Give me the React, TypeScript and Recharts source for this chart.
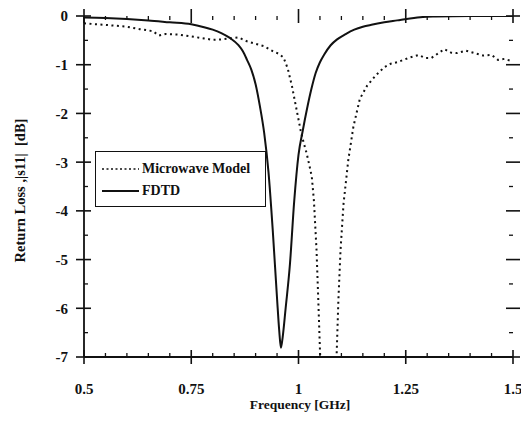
import React from 'react';
import { LineChart, Line, XAxis, YAxis, Legend, ReferenceLine } from 'recharts';

// ---- data ----
const fdtdFreq = [0.5, 0.55, 0.6, 0.65, 0.7, 0.75, 0.78, 0.8, 0.82, 0.84, 0.86, 0.87, 0.88, 0.89, 0.9, 0.91, 0.92, 0.93, 0.94, 0.95, 0.955, 0.959, 0.963, 0.97, 0.98, 0.99, 1.0, 1.01, 1.02, 1.03, 1.04, 1.05, 1.06, 1.075, 1.09, 1.11, 1.13, 1.15, 1.17, 1.2, 1.23, 1.26, 1.29, 1.32, 1.4, 1.5];
const fdtdLoss = [-0.03, -0.04, -0.06, -0.09, -0.13, -0.17, -0.23, -0.28, -0.35, -0.45, -0.6, -0.72, -0.9, -1.1, -1.4, -1.85, -2.4, -3.2, -4.4, -5.8, -6.45, -6.81, -6.6, -6.0, -5.1, -3.8, -2.85, -2.35, -1.9, -1.5, -1.17, -0.95, -0.79, -0.6, -0.48, -0.37, -0.28, -0.22, -0.18, -0.13, -0.09, -0.05, -0.02, -0.01, 0, 0];

const mwFreq = [0.5, 0.53, 0.56, 0.6, 0.63, 0.66, 0.675, 0.69, 0.72, 0.75, 0.78, 0.8, 0.82, 0.84, 0.86, 0.88, 0.9, 0.92, 0.94, 0.955, 0.965, 0.975, 0.985, 0.995, 1.005, 1.012, 1.019, 1.025, 1.031, 1.036, 1.042, 1.046, 1.05, 1.055, 1.07, 1.085, 1.089, 1.093, 1.098, 1.105, 1.116, 1.128, 1.143, 1.16, 1.18, 1.2, 1.215, 1.23, 1.245, 1.26, 1.28, 1.295, 1.31, 1.325, 1.34, 1.355, 1.37, 1.39, 1.41, 1.43, 1.45, 1.465, 1.48, 1.495];
const mwLoss = [-0.15, -0.17, -0.19, -0.22, -0.27, -0.31, -0.4, -0.37, -0.38, -0.42, -0.46, -0.49, -0.48, -0.46, -0.44, -0.52, -0.57, -0.62, -0.72, -0.78, -0.85, -1.08, -1.45, -1.9, -2.35, -2.6, -2.82, -3.05, -3.3, -3.8, -4.8, -5.8, -6.85, -8, -9, -8, -6.92, -5.83, -4.8, -3.85, -2.96, -2.27, -1.7, -1.43, -1.22, -1.05, -0.98, -0.95, -0.9, -0.85, -0.8, -0.86, -0.86, -0.77, -0.68, -0.75, -0.76, -0.71, -0.76, -0.81, -0.8, -0.9, -0.88, -0.92];

const xTicks = [0.5, 0.55, 0.6, 0.65, 0.7, 0.75, 0.8, 0.85, 0.9, 0.95, 1, 1.05, 1.1, 1.15, 1.2, 1.25, 1.3, 1.35, 1.4, 1.45, 1.5];
const xMajor = [0.5, 0.75, 1, 1.25, 1.5];
const yTicks = [-7, -6.5, -6, -5.5, -5, -4.5, -4, -3.5, -3, -2.5, -2, -1.5, -1, -0.5, 0];
const yMajor = [-7, -6, -5, -4, -3, -2, -1, 0];

const seriesNames = ['Microwave Model', 'FDTD'];

const fdtdData = fdtdFreq.map((x, i) => ({ x, y: fdtdLoss[i] }));
const mwData = mwFreq.map((x, i) => ({ x, y: mwLoss[i] }));

const FONT = '"Liberation Serif", "Times New Roman", serif';
const INK = '#111';
const X_DOMAIN: [number, number] = [0.5, 1.5];
const Y_DOMAIN: [number, number] = [-7, 0];
const frameLine = { stroke: INK, strokeWidth: 1.8 };

// plot size in px (chart 521x436, margins/axis sizes below) used to express tick lengths in data units
const PLOT_W = 429;
const PLOT_H = 341;
const dxPx = (X_DOMAIN[1] - X_DOMAIN[0]) / PLOT_W;
const dyPx = (Y_DOMAIN[1] - Y_DOMAIN[0]) / PLOT_H;

const isMajor = (list: number[], v: number) => list.some((m) => Math.abs(m - v) < 1e-6);

type Seg = { key: string; a: { x: number; y: number }; b: { x: number; y: number }; major: boolean };
const tickSegments: Seg[] = [];
xTicks.forEach((v) => {
  const major = isMajor(xMajor, v);
  const out = major ? 7 : 0;
  const inn = major ? 7 : 4;
  tickSegments.push({ key: `b${v}`, major, a: { x: v, y: Y_DOMAIN[0] - out * dyPx }, b: { x: v, y: Y_DOMAIN[0] + inn * dyPx } });
  tickSegments.push({ key: `t${v}`, major, a: { x: v, y: Y_DOMAIN[1] + out * dyPx }, b: { x: v, y: Y_DOMAIN[1] - inn * dyPx } });
});
yTicks.forEach((v) => {
  const major = isMajor(yMajor, v);
  const outL = major ? 8 : 0;
  const out = major ? 7 : 0;
  const inn = major ? 7 : 4;
  tickSegments.push({ key: `l${v}`, major, a: { x: X_DOMAIN[0] - outL * dxPx, y: v }, b: { x: X_DOMAIN[0] + inn * dxPx, y: v } });
  tickSegments.push({ key: `r${v}`, major, a: { x: X_DOMAIN[1] + out * dxPx, y: v }, b: { x: X_DOMAIN[1] - inn * dxPx, y: v } });
});

const bottomLabel = (props: any) => {
  const v = props.payload.value;
  if (!isMajor(xMajor, v)) return <g />;
  return (
    <text x={Number(props.x)} y={Number(props.y) + 37} textAnchor="middle" fontFamily={FONT} fontWeight="bold" fontSize={15} fill={INK}>
      {String(v)}
    </text>
  );
};

const leftLabel = (props: any) => {
  const v = props.payload.value;
  if (!isMajor(yMajor, v)) return <g />;
  return (
    <text x={Number(props.x) - 16} y={Number(props.y)} dy="0.36em" textAnchor="end" fontFamily={FONT} fontWeight="bold" fontSize={15} fill={INK}>
      {String(v)}
    </text>
  );
};

const YLabel = (props: any) => {
  const vb = props.viewBox || { x: 0, y: 16, width: 84, height: 341 };
  const cx = vb.x + 20;
  const cy = vb.y + vb.height / 2 + 4;
  return (
    <text
      x={cx}
      y={cy}
      transform={`rotate(-90 ${cx} ${cy})`}
      textAnchor="middle"
      dominantBaseline="central"
      fontFamily={FONT}
      fontWeight="bold"
      fontSize={14.5}
      fill={INK}
      style={{ whiteSpace: 'pre' }}
    >
      {'Return Loss ,|s11|  [dB]'}
    </text>
  );
};

const XLabel = (props: any) => {
  const vb = props.viewBox || { x: 84, y: 357, width: 429, height: 79 };
  const cx = vb.x + 216;
  const cy = vb.y + 52;
  return (
    <text x={cx} y={cy} textAnchor="middle" fontFamily={FONT} fontWeight="bold" fontSize={13.5} fill={INK}>
      Frequency [GHz]
    </text>
  );
};

const LegendBox = () => (
  <div
    style={{
      width: 171,
      height: 56,
      boxSizing: 'border-box',
      border: `1.5px solid ${INK}`,
      background: '#fff',
      fontFamily: FONT,
      fontWeight: 'bold',
      fontSize: 14,
      color: INK,
      paddingTop: 6,
      paddingLeft: 5,
    }}
  >
    {seriesNames.map((name, i) => (
      <div key={name} style={{ display: 'flex', alignItems: 'center', height: 22 }}>
        <svg width={40} height={8} style={{ display: 'block' }}>
          <line
            x1={1}
            x2={38}
            y1={4}
            y2={4}
            stroke={INK}
            strokeWidth={i === 0 ? 1.6 : 1.8}
            strokeDasharray={i === 0 ? '2 2.5' : undefined}
          />
        </svg>
        <span style={{ marginLeft: 1, lineHeight: '22px' }}>{name}</span>
      </div>
    ))}
  </div>
);

export default function App() {
  return (
    <div style={{ position: 'absolute', left: 0, top: 0, background: '#fff' }}>
      <LineChart width={521} height={436} margin={{ top: 16, right: 8, left: 0, bottom: 0 }}>
        <XAxis
          xAxisId="b"
          type="number"
          dataKey="x"
          domain={X_DOMAIN}
          ticks={xMajor}
          interval={0}
          height={79}
          tickLine={false}
          tickSize={0}
          tickMargin={0}
          axisLine={frameLine}
          tick={bottomLabel}
          allowDataOverflow
          label={<XLabel />}
        />
        <XAxis xAxisId="t" orientation="top" type="number" domain={X_DOMAIN} ticks={xMajor} interval={0} height={0} tickLine={false} tick={false} axisLine={frameLine} allowDataOverflow />
        <YAxis
          yAxisId="l"
          type="number"
          domain={Y_DOMAIN}
          ticks={yMajor}
          interval={0}
          width={84}
          tickLine={false}
          tickSize={0}
          tickMargin={0}
          axisLine={frameLine}
          tick={leftLabel}
          allowDataOverflow
          label={<YLabel />}
        />
        <YAxis yAxisId="r" orientation="right" type="number" domain={Y_DOMAIN} ticks={yMajor} interval={0} width={0} tickLine={false} tick={false} axisLine={frameLine} allowDataOverflow />
        {tickSegments.map((s) => (
          <ReferenceLine
            key={s.key}
            xAxisId="b"
            yAxisId="l"
            segment={[s.a, s.b]}
            ifOverflow="visible"
            stroke={INK}
            strokeWidth={s.major ? 1.6 : 1.3}
          />
        ))}
        <Legend
          layout="vertical"
          align="center"
          verticalAlign="middle"
          width={171}
          height={56}
          wrapperStyle={{ left: 95, top: 151, width: 171, height: 56 }}
          content={() => <LegendBox />}
        />
        <Line
          xAxisId="b"
          yAxisId="l"
          data={mwData}
          dataKey="y"
          name={seriesNames[0]}
          type="linear"
          stroke={INK}
          strokeWidth={2}
          strokeDasharray="2 3.5"
          dot={false}
          activeDot={false}
          isAnimationActive={false}
        />
        <Line
          xAxisId="b"
          yAxisId="l"
          data={fdtdData}
          dataKey="y"
          name={seriesNames[1]}
          type="monotone"
          stroke={INK}
          strokeWidth={2}
          dot={false}
          activeDot={false}
          isAnimationActive={false}
        />
      </LineChart>
    </div>
  );
}
